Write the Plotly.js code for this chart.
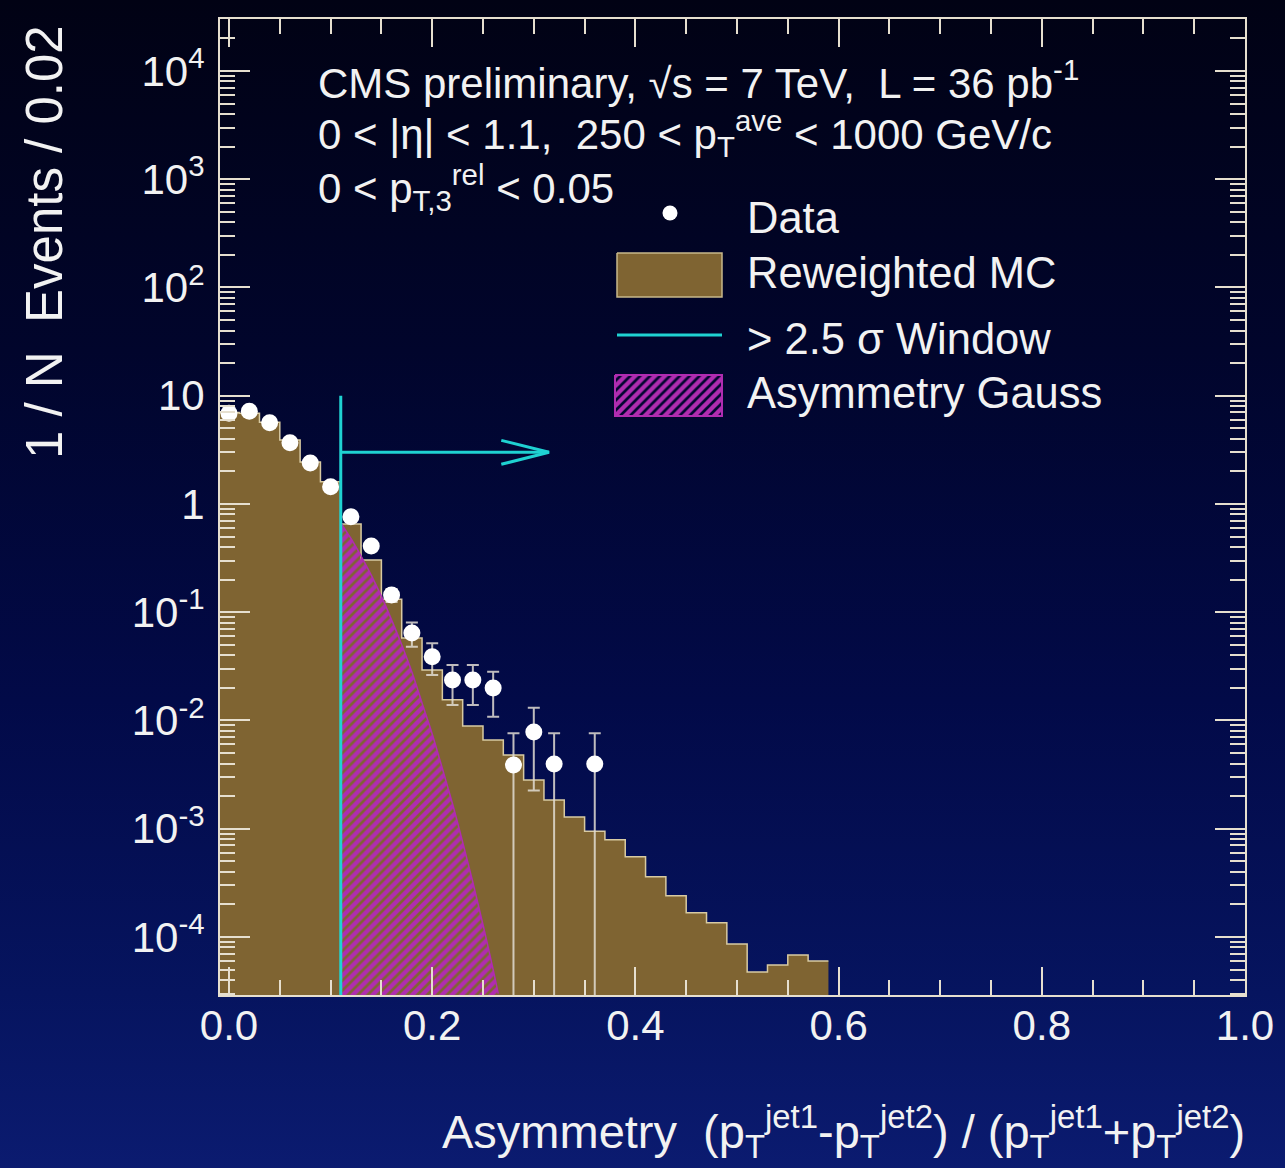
<!DOCTYPE html>
<html><head><meta charset="utf-8">
<script src="https://cdn.plot.ly/plotly-3.0.1.min.js"></script>
<style>
html,body{margin:0;padding:0;width:1285px;height:1168px;overflow:hidden;
background:linear-gradient(to bottom,#010214 0%,#01052c 30%,#020a48 60%,#06145f 85%,#0b1b70 100%);}
#chart{width:1285px;height:1168px;}
</style></head><body><div id="chart"></div>
<script>
// ---- data ----
const binWidth = 0.02;
const mcCenters = [0.00,0.02,0.04,0.06,0.08,0.10,0.12,0.14,0.16,0.18,0.20,0.22,0.24,0.26,0.28,0.30,0.32,0.34,0.36,0.38,0.40,0.42,0.44,0.46,0.48,0.50,0.52,0.54,0.56,0.58];
const mcValues = [7.0,6.9,5.7,3.9,2.44,1.6,0.653,0.304,0.132,0.0578,0.0293,0.0155,0.0089,0.0066,0.0048,0.00282,0.00184,0.00128,0.00095,0.00079,0.00055,0.00036,0.00024,0.000167,0.000135,0.000086,0.0000475,0.000055,0.000068,0.00006];

const dataX = [0.00,0.02,0.04,0.06,0.08,0.10,0.12,0.14,0.16,0.18,0.20,0.22,0.24,0.26,0.28,0.30,0.32,0.36];
const dataY = [6.9,7.2,5.64,3.68,2.39,1.44,0.763,0.409,0.144,0.0643,0.0388,0.0237,0.0237,0.0200,0.00388,0.00783,0.00396,0.00396];
const dataErrPlus  = [0.12,0.12,0.11,0.09,0.07,0.06,0.04,0.03,0.02,0.0162,0.0128,0.0089,0.0089,0.0082,0.00374,0.0053,0.00366,0.00366];
const dataErrMinus = [0.12,0.12,0.11,0.09,0.07,0.06,0.04,0.03,0.02,0.0162,0.0125,0.0098,0.0098,0.0092,0.00388,0.00558,0.00396,0.00396];

const gaussX = [0.11,0.12,0.13,0.14,0.15,0.16,0.17,0.18,0.19,0.20,0.21,0.22,0.23,0.24,0.25,0.26,0.265];
const gaussY = [0.67,0.48,0.33,0.22,0.14,0.085,0.05,0.028,0.0145,0.0075,0.0036,0.0017,0.00075,0.00032,0.00013,0.00005,0.00003];

const windowX = 0.11;
const windowTop = 10;
const arrowY = 3;
const arrowEnd = 0.315;

const xTickVals = [0,0.2,0.4,0.6,0.8,1.0];
const xTickText = ["0.0","0.2","0.4","0.6","0.8","1.0"];
const yTickVals = [1e-4,1e-3,1e-2,1e-1,1,10,1e2,1e3,1e4];
const yTickText = ["10<sup>-4</sup>","10<sup>-3</sup>","10<sup>-2</sup>","10<sup>-1</sup>","1","10","10<sup>2</sup>","10<sup>3</sup>","10<sup>4</sup>"];

const legendLabels = ["Data","Reweighted MC","> 2.5 \u03c3 Window","Asymmetry Gauss"];
const infoLines = [
  "CMS preliminary, \u221as = 7 TeV,\u00a0 L = 36 pb<sup>-1</sup>",
  "0 &lt; |\u03b7| &lt; 1.1,\u00a0 250 &lt; p<sub>T</sub><sup>ave</sup> &lt; 1000 GeV/c",
  "0 &lt; p<sub>T,3</sub><sup>rel</sup> &lt; 0.05"
];
const xTitle = "Asymmetry\u00a0 (p<sub>T</sub><sup>jet1</sup>-p<sub>T</sub><sup>jet2</sup>) / (p<sub>T</sub><sup>jet1</sup>+p<sub>T</sub><sup>jet2</sup>)";
const yTitle = "1 / N\u00a0 Events / 0.02";

// ---- styling ----
const FONT = "Liberation Sans, Arial, Helvetica, sans-serif";
const TXT = "#f2f2f2";
const AX = "#e6dfcf";
const BROWN = "#7f6432";
const MAG = "#b02cb0";
const CYAN = "#1fd2d2";

// geometry (pixels)
const W = 1285, H = 1168;
const L = 220, R = 1245, T = 19, B = 995;
const px = p => (p - L) / (R - L);
const py = p => (B - p) / (B - T);

// histogram as step outline
const edges = mcCenters.map(c => c - binWidth/2).concat([mcCenters[mcCenters.length-1] + binWidth/2]);
const stepY = mcValues.concat([mcValues[mcValues.length-1]]);

const hatch = {shape: '/', fgcolor: MAG, bgcolor: 'rgba(0,0,0,0)', size: 7, solidity: 0.62, fillmode: 'replace'};

const traces = [];
traces.push({
  x: edges, y: stepY, type: 'scatter', mode: 'lines',
  line: {shape: 'hv', color: '#d8caa2', width: 1.5},
  fill: 'tozeroy', fillcolor: BROWN, hoverinfo: 'skip', showlegend: false
});
traces.push({
  x: gaussX, y: gaussY, type: 'scatter', mode: 'lines',
  line: {shape: 'spline', color: MAG, width: 1.5},
  fill: 'tozeroy', fillcolor: 'rgba(0,0,0,0)', fillpattern: hatch,
  hoverinfo: 'skip', showlegend: false
});
// window line + arrow
const headLen = 0.047, headSpread = 1.29;
traces.push({
  x: [windowX, windowX], y: [1e-7, windowTop], type: 'scatter', mode: 'lines',
  line: {color: CYAN, width: 3}, showlegend: false, hoverinfo: 'skip'
});
traces.push({
  x: [windowX, arrowEnd], y: [arrowY, arrowY], type: 'scatter', mode: 'lines',
  line: {color: CYAN, width: 3}, showlegend: false, hoverinfo: 'skip'
});
traces.push({
  x: [arrowEnd - headLen, arrowEnd, arrowEnd - headLen], y: [arrowY*headSpread, arrowY, arrowY/headSpread],
  type: 'scatter', mode: 'lines', line: {color: CYAN, width: 3}, showlegend: false, hoverinfo: 'skip'
});
// data
traces.push({
  x: dataX, y: dataY, type: 'scatter', mode: 'markers',
  marker: {color: '#ffffff', size: 17, line: {width: 0}},
  error_y: {type: 'data', symmetric: false, array: dataErrPlus, arrayminus: dataErrMinus,
            color: 'rgba(225,220,210,0.85)', thickness: 2, width: 6},
  showlegend: false, hoverinfo: 'skip'
});

// custom legend (overlay axes in paper-like units)
const lx0 = px(617), lx1 = px(722);
traces.push({x:[px(670)], y:[py(213)], xaxis:'x2', yaxis:'y2', type:'scatter', mode:'markers',
  marker:{color:'#ffffff', size:15}, showlegend:false, hoverinfo:'skip'});
traces.push({x:[lx0,lx1,lx1,lx0,lx0], y:[py(253),py(253),py(297),py(297),py(253)], xaxis:'x2', yaxis:'y2',
  type:'scatter', mode:'lines', fill:'toself', fillcolor:BROWN, line:{color:'#c8b88a', width:1.5},
  showlegend:false, hoverinfo:'skip'});
traces.push({x:[lx0,lx1], y:[py(335),py(335)], xaxis:'x2', yaxis:'y2', type:'scatter', mode:'lines',
  line:{color:CYAN, width:3}, showlegend:false, hoverinfo:'skip'});
traces.push({x:[px(615),lx1,lx1,px(615),px(615)], y:[py(375),py(375),py(416),py(416),py(375)], xaxis:'x2', yaxis:'y2',
  type:'scatter', mode:'lines', fill:'toself', fillcolor:'rgba(0,0,0,0)', fillpattern: hatch,
  line:{color:MAG, width:2}, showlegend:false, hoverinfo:'skip'});

// minor tick values for log axis
const yMinor = [];
for (let k = -5; k <= 4; k++) for (let j = 2; j <= 9; j++) yMinor.push(j * Math.pow(10, k));

const annotations = [];
const legendYs = [218, 273, 339, 393];
legendLabels.forEach((t, i) => annotations.push({
  text: t.replace('>', '&gt;'), x: px(745), y: py(legendYs[i]), xref: 'paper', yref: 'paper',
  xanchor: 'left', yanchor: 'middle', showarrow: false, font: {family: FONT, size: 43.5, color: TXT}
}));
const infoYs = [80, 134, 188];
infoLines.forEach((t, i) => annotations.push({
  text: t, x: px(316), y: py(infoYs[i]), xref: 'paper', yref: 'paper',
  xanchor: 'left', yanchor: 'middle', showarrow: false, font: {family: FONT, size: 42, color: TXT}
}));
annotations.push({text: xTitle, x: px(1247), y: py(1131), xref: 'paper', yref: 'paper',
  xanchor: 'right', yanchor: 'middle', showarrow: false, font: {family: FONT, size: 47, color: TXT}});
annotations.push({text: yTitle, x: px(44), y: py(242), xref: 'paper', yref: 'paper', textangle: -90,
  xanchor: 'center', yanchor: 'middle', showarrow: false, font: {family: FONT, size: 51, color: TXT}});

const layout = {
  width: W, height: H,
  margin: {l: L, r: W - R, t: T, b: H - B, pad: 0},
  paper_bgcolor: 'rgba(0,0,0,0)', plot_bgcolor: 'rgba(0,0,0,0)',
  showlegend: false,
  font: {family: FONT, color: TXT},
  xaxis: {
    range: [-0.00886, 1.0], showgrid: false, zeroline: false,
    showline: true, linecolor: AX, linewidth: 2, mirror: 'allticks',
    ticks: 'inside', ticklen: 28, tickwidth: 2, tickcolor: AX,
    tickmode: 'array', tickvals: xTickVals, ticktext: xTickText,
    tickfont: {family: FONT, size: 42, color: TXT}, ticklabelstandoff: -7,
    minor: {dtick: 0.05, tick0: 0, ticks: 'inside', ticklen: 15, tickwidth: 2, tickcolor: AX}
  },
  yaxis: {
    type: 'log', range: [-4.536, 4.48], showgrid: false, zeroline: false,
    showline: true, linecolor: AX, linewidth: 2, mirror: 'allticks',
    ticks: 'inside', ticklen: 30, tickwidth: 2, tickcolor: AX,
    tickmode: 'array', tickvals: yTickVals, ticktext: yTickText,
    tickfont: {family: FONT, size: 42, color: TXT}, ticklabelstandoff: 5,
    minor: {tickmode: 'array', tickvals: yMinor, ticks: 'inside', ticklen: 15, tickwidth: 2, tickcolor: AX}
  },
  xaxis2: {domain: [0, 1], range: [0, 1], visible: false, anchor: 'y2', fixedrange: true},
  yaxis2: {domain: [0, 1], range: [0, 1], visible: false, anchor: 'x2', fixedrange: true},
  annotations: annotations
};

Plotly.newPlot('chart', traces, layout, {staticPlot: true});
</script></body></html>
